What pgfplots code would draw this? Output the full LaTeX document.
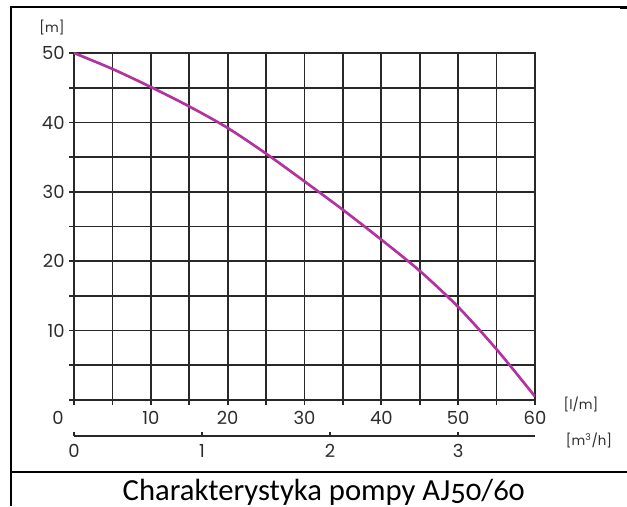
\documentclass[border=0pt]{standalone}
\usepackage{pgfplots}
\pgfplotsset{compat=1.18}
\usepackage{fontspec}
\setmainfont{Poppins}
\newfontfamily\capfont{Carlito}[RawFeature=+onum]
\definecolor{curve}{RGB}{180,50,160}
\definecolor{gridc}{RGB}{40,40,40}
\definecolor{txt}{RGB}{45,45,45}

\begin{document}
\begin{tikzpicture}[x=0.75pt,y=0.75pt]
\useasboundingbox (0,0) rectangle (627,506);

% main chart: head [m] vs flow [l/min]
\begin{axis}[
  at={(55.5pt,79.5pt)}, anchor=south west,
  scale only axis, width=345.75pt, height=260.25pt,
  xmin=0, xmax=60, ymin=0, ymax=50,
  xtick={0,5,...,60}, ytick={0,5,...,50},
  xticklabels={,,10,,20,,30,,40,,50,,60},
  yticklabels={,,10,,20,,30,,40,,50},
  xtick pos=lower, ytick pos=left,
  grid=major,
  major grid style={gridc, line width=1.3pt},
  axis line style={gridc, line width=1.3pt},
  tick style={gridc, line width=1.3pt},
  tick align=outside, major tick length=3.5pt,
  ticklabel style={font=\fontsize{13.5}{13.5}\selectfont, text=txt},
  xticklabel style={yshift=-1.5pt},
  /pgf/number format/assume math mode=true,
]
\addplot[curve, line width=2pt, smooth] coordinates {
  (0,50) (5,47.7) (10,45.1) (15,42.3) (20,39.2) (25,35.5) (30,31.5)
  (35,27.4) (40,23.1) (45,18.6) (50,13.4) (55,7.3) (60,0.5)
};
\end{axis}

% second scale: flow in m3/h
\begin{axis}[
  at={(55.5pt,52.5pt)}, anchor=south west,
  scale only axis, width=345.75pt, height=5pt,
  xmin=0, xmax=3.6, ymin=0, ymax=1,
  hide y axis, axis x line=bottom,
  axis line style={-, gridc, line width=1.3pt},
  xtick={0,1,2,3}, tick align=inside, major tick length=3pt,
  tick style={gridc, line width=1.3pt},
  ticklabel style={font=\fontsize{13.5}{13.5}\selectfont, text=txt},
  xticklabel style={yshift=-3pt},
  /pgf/number format/assume math mode=true,
]
\addplot[draw=none] coordinates {(0,0)};
\end{axis}

\node[text=txt, font=\fontsize{13.5}{13.5}\selectfont] at (58,88) {0};
\node[text=txt, font=\fontsize{10}{10}\selectfont] at (581,102) {[l/m]};
\node[text=txt, font=\fontsize{10}{10}\selectfont] at (589,66) {[m\textsuperscript{3}/h]};
\node[text=txt, font=\fontsize{10}{10}\selectfont] at (52,478) {[m]};

% frame
\draw[line width=1.5pt] (11,0) -- (11,499) -- (620,499);
\draw[line width=2.5pt] (620,498.5) -- (627,498.5);
\draw[line width=1.8pt] (11,34) -- (627,34);
\node[anchor=base, font=\capfont\fontsize{23}{23}\selectfont] at (323.5,6) {Charakterystyka pompy AJ50/60};
\end{tikzpicture}
\end{document}
